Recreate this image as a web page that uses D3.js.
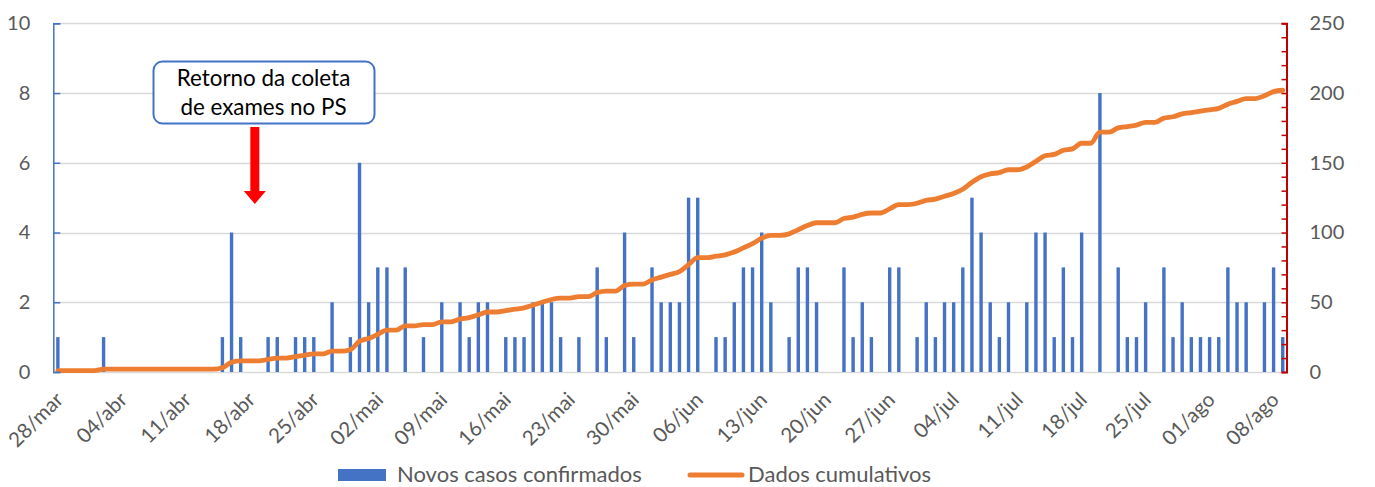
<!DOCTYPE html>
<html>
<head>
<meta charset="utf-8">
<script src="https://cdn.jsdelivr.net/npm/d3@7"></script>
<style>
  html, body { margin: 0; padding: 0; background: #fff; }
  svg { display: block; font-family: Lato, "Noto Sans", sans-serif; }
</style>
</head>
<body>
<svg id="chart" width="1375" height="487"></svg>
<script>
// ---------------- DATA ----------------
// Daily new confirmed cases, 28/mar .. 09/ago (135 days)
const newCases = [
  1,0,0,0,0,1,0,0,0,0, 0,0,0,0,0,0,0,0,1,4,
  1,0,0,1,1,0,1,1,1,0, 2,0,1,6,2,3,3,0,3,0,
  1,0,2,0,2,1,2,2,0,1, 1,1,2,2,2,1,0,1,0,3,
  1,0,4,1,0,3,2,2,2,5, 5,0,1,1,2,3,3,4,2,0,
  1,3,3,2,0,0,3,1,2,1, 0,3,3,0,1,2,1,2,2,3,
  5,4,2,1,2,0,2,4,4,1, 3,1,4,0,8,0,3,1,1,2,
  0,3,1,2,1,1,1,1,3,2, 2,0,2,3,1
];
// Cumulative cases (right axis)
const cumulative = [
  1,1,1,1,1,2,2,2,2,2, 2,2,2,2,2,2,2,2,3,7,
  8,8,8,9,10,10,11,12,13,13, 15,15,16,22,24,27,30,30,33,33,
  34,34,36,36,38,39,41,43,43,44, 45,46,48,50,52,53,53,54,54,57,
  58,58,62,63,63,66,68,70,72,77, 82,82,83,84,86,89,92,96,98,98,
  99,102,105,107,107,107,110,111,113,114, 114,117,120,120,121,123,124,126,128,131,
  136,140,142,143,145,145,147,151,155,156, 159,160,164,164,172,172,175,176,177,179,
  179,182,183,185,186,187,188,189,192,194, 196,196,198,201,202
];
const xTickLabels = ["28/mar","04/abr","11/abr","18/abr","25/abr","02/mai","09/mai","16/mai",
  "23/mai","30/mai","06/jun","13/jun","20/jun","27/jun","04/jul","11/jul","18/jul","25/jul",
  "01/ago","08/ago"];
const leftTicks = [0,2,4,6,8,10];
const rightTicks = [0,50,100,150,200,250];
const seriesNames = ["Novos casos confirmados","Dados cumulativos"];
const annotationLines = ["Retorno da coleta","de exames no PS"];
const monthsPt = ["jan","fev","mar","abr","mai","jun","jul","ago","set","out","nov","dez"];
const startDate = Date.UTC(2020,2,28);

// categories: one per day
const days = d3.utcDay.range(new Date(startDate), new Date(Date.UTC(2020,7,10)))
  .map(d => d3.utcFormat("%d")(d) + "/" + monthsPt[d.getUTCMonth()]);

// ---------------- LAYOUT ----------------
const svg = d3.select("#chart");
const plotLeft = 53.3, plotRight = 1287.3, plotTop = 23.3, plotBottom = 372;
const axisColor = "#595959";
const blue = "#4472C4", orange = "#ED7D31";

const x = d3.scaleBand().domain(days).range([plotLeft, plotRight]).padding(0);
const bw = x.bandwidth();
const yL = d3.scaleLinear().domain([0,10]).range([plotBottom, plotTop]);
const yR = d3.scaleLinear().domain([0,250]).range([plotBottom, plotTop]);

// gridlines
svg.append("g").selectAll("line").data(leftTicks).join("line")
  .attr("x1", plotLeft).attr("x2", 1286.5)
  .attr("y1", d => Math.round(yL(d)) + 0.5).attr("y2", d => Math.round(yL(d)) + 0.5)
  .attr("stroke", "#D9D9D9").attr("stroke-width", 1.3);

// bars
const barW = 3.4;
svg.append("g").selectAll("rect").data(newCases.map((v,i)=>({v, day: days[i]})))
  .join("rect")
  .attr("x", d => x(d.day) + bw/2 - barW/2)
  .attr("width", barW)
  .attr("y", d => yL(d.v))
  .attr("height", d => yL(0) - yL(d.v))
  .attr("fill", blue);

// cumulative line
const line = d3.line()
  .x((d,i) => x(days[i]) + bw/2)
  .y(d => yR(d))
  .curve(d3.curveMonotoneX);
svg.append("path").datum(cumulative)
  .attr("d", line)
  .attr("fill", "none")
  .attr("stroke", orange)
  .attr("stroke-width", 4.8)
  .attr("stroke-linejoin", "round")
  .attr("stroke-linecap", "round");

// left axis
const gL = svg.append("g").attr("transform", `translate(${plotLeft},0)`)
  .call(d3.axisLeft(yL).tickValues(leftTicks).tickSize(-7).tickPadding(23));
gL.select(".domain").attr("stroke", blue).attr("stroke-width", 1.5);
gL.selectAll(".tick line").attr("stroke", blue).attr("stroke-width", 1.5);
gL.selectAll(".tick text").attr("fill", axisColor).style("font-size", "20px")
  .style("font-family", "Lato, sans-serif");

// right axis
const rX = 1286.5;
const gRm = svg.append("g").attr("transform", `translate(${rX},0)`)
  .call(d3.axisRight(yR).ticks(25).tickSize(-5).tickFormat(""));
gRm.select(".domain").attr("stroke", "#C00000").attr("stroke-width", 2);
gRm.selectAll(".tick line").attr("stroke", "#C00000").attr("stroke-width", 1.5);
const gR = svg.append("g").attr("transform", `translate(${rX},0)`)
  .call(d3.axisRight(yR).tickValues(rightTicks).tickSize(0).tickPadding(23));
gR.select(".domain").remove();
gR.selectAll(".tick text").attr("fill", axisColor).style("font-size", "20px")
  .style("font-family", "Lato, sans-serif");

// x axis labels
const gX = svg.append("g").attr("transform", `translate(0,${plotBottom})`)
  .call(d3.axisBottom(x).tickValues(xTickLabels).tickSize(0).tickPadding(0));
gX.select(".domain").remove();
gX.selectAll(".tick text")
  .attr("fill", axisColor).style("font-size", "20.5px").style("font-family", "Lato, sans-serif")
  .attr("text-anchor", "end")
  .attr("dy", "0.35em")
  .attr("y", 0)
  .attr("transform", "translate(1.5,24) rotate(-45)");

// annotation box
const ann = svg.append("g");
ann.append("rect").attr("x", 153.5).attr("y", 61.5).attr("width", 221).attr("height", 62)
  .attr("rx", 9).attr("fill", "#fff").attr("stroke", blue).attr("stroke-width", 2);
ann.selectAll("text").data(annotationLines).join("text")
  .attr("x", 263.5).attr("y", (d,i) => 86 + i*28.5)
  .attr("text-anchor", "middle").attr("fill", "#000")
  .style("font-size", "22.4px").text(d => d);
// red arrow
const ax = x("18/abr") + bw/2 + 5;
ann.append("rect").attr("x", ax - 4.5).attr("y", 127).attr("width", 9).attr("height", 65)
  .attr("fill", "#FF0000");
ann.append("path").attr("d", `M${ax-11},191 L${ax+11},191 L${ax},204 Z`).attr("fill", "#FF0000");

// legend
const leg = svg.append("g");
leg.append("rect").attr("x", 338).attr("y", 469).attr("width", 48).attr("height", 12).attr("fill", blue);
leg.append("text").attr("x", 397).attr("y", 481.5).attr("fill", axisColor)
  .style("font-size", "22px").text(seriesNames[0]);
leg.append("line").attr("x1", 690).attr("x2", 742).attr("y1", 475).attr("y2", 475)
  .attr("stroke", orange).attr("stroke-width", 5).attr("stroke-linecap", "round");
leg.append("text").attr("x", 748).attr("y", 481.5).attr("fill", axisColor)
  .style("font-size", "22px").text(seriesNames[1]);
</script>
</body>
</html>
